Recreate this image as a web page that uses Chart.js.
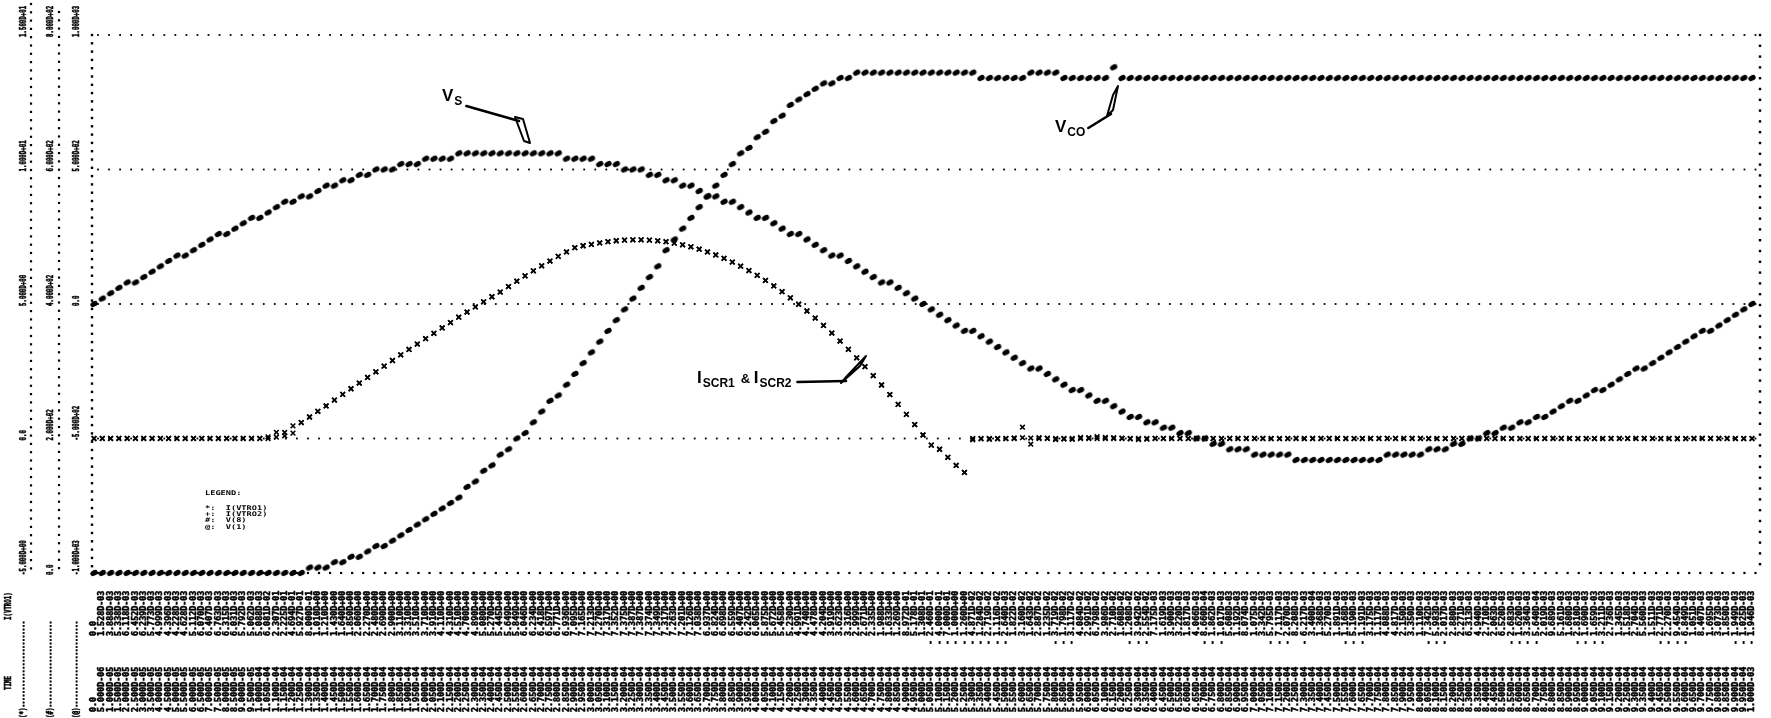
<!DOCTYPE html>
<html>
<head>
<meta charset="utf-8">
<title>Transient analysis printer plot</title>
<script src="https://cdn.jsdelivr.net/npm/chart.js@4.4.1/dist/chart.umd.min.js"></script>
<style>
  html, body { margin: 0; padding: 0; background: #ffffff; }
  #plot { display: block; }
</style>
</head>
<body>
<canvas id="plot" width="1771" height="718"></canvas>
<script>
// ---- transient analysis: 5 us print step, 0 .. 1 ms ----
const TSTEP = 5e-6;
const TIME = Array.from({ length: 201 }, (_, i) => i * TSTEP);

// scale ticks of the three plot scales
const STAR_TICKS = [-5, 0, 5, 10, 15];          // (*) I(VTRO1), I(VTRO2)  [A]
const HASH_TICKS = [0, 200, 400, 600, 800];      // (#) V(8)               [V]
const AT_TICKS = [-1000, -500, 0, 500, 1000];    // (@) V(1)               [V]

// V(1): source voltage V_S
const V1 = [
  0, 20, 40, 60, 80, 80, 100, 120, 140, 160, 180, 180, 200, 220, 240, 260, 260, 280, 300, 320,
  320, 340, 360, 380, 380, 400, 400, 420, 440, 440, 460, 460, 480, 480, 500, 500, 500, 520, 520, 520,
  540, 540, 540, 540, 560, 560, 560, 560, 560, 560, 560, 560, 560, 560, 560, 560, 560, 540, 540, 540,
  540, 520, 520, 520, 500, 500, 500, 480, 480, 460, 460, 440, 440, 420, 400, 400, 380, 380, 360, 340,
  320, 320, 300, 280, 260, 260, 240, 220, 200, 180, 180, 160, 140, 120, 100, 80, 80, 60, 40, 20,
  0, -20, -40, -60, -80, -100, -100, -120, -140, -160, -180, -200, -220, -240, -240, -260, -280, -300, -320, -320,
  -340, -360, -360, -380, -400, -420, -420, -440, -440, -460, -460, -480, -480, -500, -500, -520, -520, -540, -540, -540,
  -560, -560, -560, -560, -560, -580, -580, -580, -580, -580, -580, -580, -580, -580, -580, -580, -560, -560, -560, -560,
  -560, -540, -540, -540, -520, -520, -500, -500, -480, -480, -460, -460, -440, -440, -420, -420, -400, -380, -360, -360,
  -340, -320, -320, -300, -280, -260, -240, -240, -220, -200, -180, -160, -140, -120, -100, -100, -80, -60, -40, -20,
  0
];

// V(8): converter output voltage V_CO
const V8 = [
  0, 0, 0, 0, 0, 0, 0, 0, 0, 0, 0, 0, 0, 0, 0, 0, 0, 0, 0, 0,
  0, 0, 0, 0, 0, 0, 8, 8, 8, 16, 16, 24, 24, 32, 40, 40, 48, 56, 64, 72,
  80, 88, 96, 104, 112, 128, 136, 152, 160, 176, 184, 200, 208, 224, 240, 256, 264, 280, 296, 312,
  328, 344, 360, 376, 392, 408, 424, 440, 456, 480, 496, 512, 528, 544, 560, 576, 592, 608, 624, 632,
  648, 656, 672, 680, 696, 704, 712, 720, 728, 728, 736, 736, 744, 744, 744, 744, 744, 744, 744, 744,
  744, 744, 744, 744, 744, 744, 744, 736, 736, 736, 736, 736, 736, 744, 744, 744, 744, 736, 736, 736,
  736, 736, 736, 752, 736, 736, 736, 736, 736, 736, 736, 736, 736, 736, 736, 736, 736, 736, 736, 736,
  736, 736, 736, 736, 736, 736, 736, 736, 736, 736, 736, 736, 736, 736, 736, 736, 736, 736, 736, 736,
  736, 736, 736, 736, 736, 736, 736, 736, 736, 736, 736, 736, 736, 736, 736, 736, 736, 736, 736, 736,
  736, 736, 736, 736, 736, 736, 736, 736, 736, 736, 736, 736, 736, 736, 736, 736, 736, 736, 736, 736,
  736
];

// I(VTRO1): thyristor current I_SCR1 (also the printed value column)
const I1 = [
  0, 1.528e-3, 3.888e-3, 5.338e-3, 6.118e-3, 6.452e-3, 6.239e-3, 5.773e-3, 4.999e-3, 4.396e-3,
  4.228e-3, 4.628e-3, 5.112e-3, 6.070e-3, 6.407e-3, 6.763e-3, 6.315e-3, 6.031e-3, 5.792e-3, 5.062e-3,
  5.088e-3, 6.081e-2, 0.2307, 0.2225, 0.4694, 0.5927, 0.80, 1.01, 1.21, 1.43,
  1.64, 1.85, 2.06, 2.27, 2.48, 2.69, 2.90, 3.11, 3.31, 3.51,
  3.71, 3.91, 4.11, 4.31, 4.51, 4.70, 4.89, 5.08, 5.27, 5.445,
  5.649, 5.849, 6.046, 6.234, 6.418, 6.597, 6.771, 6.936, 7.095, 7.165,
  7.213, 7.270, 7.317, 7.352, 7.375, 7.387, 7.387, 7.374, 7.349, 7.317,
  7.263, 7.201, 7.126, 7.038, 6.937, 6.824, 6.698, 6.559, 6.407, 6.242,
  6.065, 5.875, 5.672, 5.458, 5.230, 4.991, 4.740, 4.478, 4.204, 3.919,
  3.623, 3.316, 2.999, 2.671, 2.335, 1.988, 1.633, 1.269, 0.8972, 0.5178,
  0.1308, -0.246, -0.40, -0.70, -1.00, -1.26, -4.871e-2, -1.284e-2, -2.719e-2, -1.116e-2,
  -2.640e-3, 1.822e-2, 3.160e-2, 1.643e-2, 2.887e-2, 1.235e-2, -3.719e-2, -1.798e-2, -3.117e-2, 4.084e-2,
  2.991e-2, 6.798e-2, 3.986e-2, 2.710e-2, 1.608e-2, -1.208e-2, -3.942e-2, -2.554e-2, 7.175e-3, 1.619e-3,
  3.900e-3, 3.220e-3, 1.817e-3, 4.066e-3, -8.660e-4, -1.862e-3, -1.017e-3, 5.608e-3, 1.192e-3, 8.074e-3,
  1.075e-3, 3.342e-3, -5.795e-3, -7.117e-3, -2.070e-3, 8.208e-3, -6.217e-3, 3.400e-4, 1.368e-3, 5.270e-3,
  1.891e-3, -1.168e-3, -5.190e-3, -1.191e-3, 3.175e-3, 1.117e-3, 4.088e-3, 4.817e-3, 2.150e-3, 3.350e-3,
  1.110e-3, -7.342e-3, -5.983e-3, -2.017e-3, 2.880e-3, 2.271e-3, 6.313e-3, 4.940e-3, 2.710e-3, 2.063e-3,
  6.520e-3, -2.683e-3, -1.620e-3, -3.364e-3, -5.640e-4, 2.019e-3, 9.689e-3, 5.161e-3, 1.680e-3, -2.810e-3,
  -1.690e-3, -1.659e-3, -3.211e-3, 2.736e-3, 1.345e-3, 1.518e-3, 2.704e-3, 5.560e-3, 1.511e-3, -2.771e-3,
  -2.270e-3, -9.454e-3, -6.849e-3, 1.051e-3, 8.407e-3, 1.695e-3, 3.073e-3, 1.850e-3, -1.949e-3, -1.025e-3,
  -1.946e-3
];

// I(VTRO2): thyristor current I_SCR2
const I2 = [
  0, 0, 0, 0, 0, 0, 0, 0, 0, 0, 0, 0, 0, 0, 0, 0, 0, 0, 0, 0,
  0, 0, 0.05, 0.10, 0.20, 0.5927, 0.80, 1.01, 1.21, 1.43,
  1.64, 1.85, 2.06, 2.27, 2.48, 2.69, 2.90, 3.11, 3.31, 3.51,
  3.71, 3.91, 4.11, 4.31, 4.51, 4.70, 4.89, 5.08, 5.27, 5.445,
  5.649, 5.849, 6.046, 6.234, 6.418, 6.597, 6.771, 6.936, 7.095, 7.165,
  7.213, 7.270, 7.317, 7.352, 7.375, 7.387, 7.387, 7.374, 7.349, 7.317,
  7.263, 7.201, 7.126, 7.038, 6.937, 6.824, 6.698, 6.559, 6.407, 6.242,
  6.065, 5.875, 5.672, 5.458, 5.230, 4.991, 4.740, 4.478, 4.204, 3.919,
  3.623, 3.316, 2.999, 2.671, 2.335, 1.988, 1.633, 1.269, 0.8972, 0.5178,
  0.1308, -0.246, -0.40, -0.70, -1.00, -1.26, 0, 0, 0, 0,
  0, 0, 0.42, -0.21, 0, 0, 0, 0, 0, 0, 0, 0, 0, 0, 0, 0, 0, 0, 0, 0,
  0, 0, 0, 0, 0, 0, 0, 0, 0, 0, 0, 0, 0, 0, 0, 0, 0, 0, 0, 0,
  0, 0, 0, 0, 0, 0, 0, 0, 0, 0, 0, 0, 0, 0, 0, 0, 0, 0, 0, 0,
  0, 0, 0, 0, 0, 0, 0, 0, 0, 0, 0, 0, 0, 0, 0, 0, 0, 0, 0, 0,
  0, 0, 0, 0, 0, 0, 0, 0, 0, 0, 0, 0, 0, 0, 0, 0, 0, 0, 0, 0,
  0
];

// ---- printer-style number format, e.g. 1.528D-03 ----
function fmtD(v) {
  if (v === 0) return '0.0';
  const parts = Math.abs(v).toExponential(3).split('e');
  const e = parseInt(parts[1], 10);
  return (v < 0 ? '-' : '') + parts[0] + 'D' + (e < 0 ? '-' : '+') + String(Math.abs(e)).padStart(2, '0');
}

const MONO = '"DejaVu Sans Mono", "Liberation Mono", monospace';
const ROW_FONT = 'bold 8.4px ' + MONO;
const HEAD_FONT = 'bold 9px ' + MONO;
const INK = '#000000';

// filled printer dot used for the voltage traces
function makeDot() {
  const c = document.createElement('canvas');
  c.width = 10; c.height = 10;
  const g = c.getContext('2d');
  g.fillStyle = INK;
  g.beginPath();
  g.ellipse(5, 5, 3.9, 2.7, -0.5, 0, Math.PI * 2);
  g.fill();
  return c;
}
const DOT = makeDot();

function series(values) {
  return values.map((v, i) => ({ x: TIME[i], y: v }));
}

// dotted rules made of single printer dots
function dotsH(ctx, x0, x1, y, step, r) {
  for (let x = x0; x <= x1 + 0.01; x += step) ctx.fillRect(x - r / 2, y - r / 2, r, r);
}
function dotsV(ctx, x, y0, y1, step, r) {
  for (let y = y0; y <= y1 + 0.01; y += step) ctx.fillRect(x - r / 2, y - r / 2, r, r);
}

// rotated (bottom-to-top) printer text starting at (x, y); heavy ribbon ink.
// squeeze < 1 condenses the characters along the line.
function upText(ctx, s, x, y, squeeze) {
  ctx.save();
  ctx.translate(x, y);
  ctx.rotate(-Math.PI / 2);
  if (squeeze) ctx.scale(squeeze, 1);
  ctx.textAlign = 'left';
  ctx.textBaseline = 'middle';
  ctx.lineWidth = 0.55;
  ctx.strokeStyle = INK;
  ctx.fillText(s, 0, 0);
  ctx.strokeText(s, 0, 0);
  ctx.restore();
}

// hand-drawn style arrow: leader line plus slim open arrowhead
function leader(ctx, pts, head) {
  ctx.save();
  ctx.strokeStyle = INK;
  ctx.lineWidth = 2.6;
  ctx.lineCap = 'round';
  ctx.lineJoin = 'round';
  ctx.beginPath();
  ctx.moveTo(pts[0][0], pts[0][1]);
  for (let k = 1; k < pts.length; k++) ctx.lineTo(pts[k][0], pts[k][1]);
  ctx.stroke();
  ctx.lineWidth = 2;
  ctx.beginPath();
  ctx.moveTo(head[0][0], head[0][1]);
  for (let k = 1; k < head.length; k++) ctx.lineTo(head[k][0], head[k][1]);
  ctx.closePath();
  ctx.stroke();
  ctx.restore();
}

function subLabel(ctx, x, y, main, sub) {
  ctx.save();
  ctx.fillStyle = INK;
  ctx.textBaseline = 'alphabetic';
  ctx.textAlign = 'left';
  ctx.font = 'bold 17px "Liberation Sans", "DejaVu Sans", sans-serif';
  ctx.fillText(main, x, y);
  let w = ctx.measureText(main).width;
  ctx.font = 'bold 12px "Liberation Sans", "DejaVu Sans", sans-serif';
  ctx.fillText(sub, x + w + 1, y + 4);
  w += 1 + ctx.measureText(sub).width;
  ctx.restore();
  return x + w;
}

const printerPlot = {
  id: 'printerPlot',
  beforeDraw(chart) {
    const ctx = chart.ctx;
    ctx.save();
    ctx.fillStyle = '#ffffff';
    ctx.fillRect(0, 0, chart.width, chart.height);
    ctx.restore();
  },
  beforeDatasetsDraw(chart) {
    const ctx = chart.ctx;
    const a = chart.chartArea;
    const yA = chart.scales.yAt;
    ctx.save();
    ctx.fillStyle = INK;
    // horizontal rules at every scale division
    AT_TICKS.forEach((t, k) => {
      const y = yA.getPixelForValue(t);
      dotsH(ctx, a.left + 4, a.right + 8, y, 11.05, k === 0 ? 2.2 : 1.8);
    });
    // frame: left and right dotted edges
    dotsV(ctx, a.left - 2, a.top, a.bottom, 8.3, 2.4);
    dotsV(ctx, a.right + 8, a.top, a.bottom, 10.8, 2.4);
    // separators between the header scale columns
    dotsV(ctx, 31, 4, a.bottom + 2, 8.3, 2.2);
    dotsV(ctx, 59, 12, a.bottom + 2, 8.3, 2.2);
    ctx.restore();
  },
  afterDatasetsDraw(chart) {
    const ctx = chart.ctx;
    const xs = chart.scales.x;
    const yS = chart.scales.yStar, yH = chart.scales.yHash, yA = chart.scales.yAt;
    ctx.save();
    ctx.fillStyle = INK;

    // value column (I(VTRO1)) and time column under each print row
    ctx.font = ROW_FONT;
    TIME.forEach((t, i) => {
      const x = xs.getPixelForValue(t);
      const v = I1[i];
      upText(ctx, fmtD(Math.abs(v)), x, 636);
      if (v < 0) upText(ctx, '-', x, 645);
      upText(ctx, fmtD(t), x, 712);
    });

    // column titles and scale headers (condensed header type)
    ctx.font = HEAD_FONT;
    const SQ = 0.64;
    upText(ctx, 'I(VTRO1)', 9, 620, SQ);
    upText(ctx, 'TIME', 9, 690, SQ);
    const cols = [
      { x: 24, sym: '(*)', ticks: STAR_TICKS, scale: yS },
      { x: 51, sym: '(#)', ticks: HASH_TICKS, scale: yH },
      { x: 77, sym: '(@)', ticks: AT_TICKS, scale: yA }
    ];
    cols.forEach(c => {
      upText(ctx, c.sym + '-------------------------', c.x, 718, SQ);
      c.ticks.forEach(t => upText(ctx, fmtD(t), c.x, c.scale.getPixelForValue(t) + 2, SQ));
    });

    // legend block
    ctx.save();
    ctx.font = 'bold 6.4px ' + MONO;
    ctx.textBaseline = 'middle';
    ctx.setTransform(1.35, 0, 0, 1, 0, 0);
    const lx = 205 / 1.35;
    ctx.fillText('LEGEND:', lx, 493);
    ctx.fillText('*:  I(VTRO1)', lx, 508);
    ctx.fillText('+:  I(VTRO2)', lx, 514);
    ctx.fillText('#:  V(8)', lx, 520);
    ctx.fillText('@:  V(1)', lx, 527);
    ctx.restore();

    // trace annotations
    let e = subLabel(ctx, 442, 101, 'V', 'S');
    leader(ctx, [[e + 4, 106], [519, 121]], [[515, 117], [523, 119], [530, 143], [524, 141]]);
    e = subLabel(ctx, 1055, 132, 'V', 'CO');
    leader(ctx, [[e + 3, 128], [1111, 114]], [[1107, 116], [1113, 110], [1118, 86], [1113, 95]]);
    let x2 = subLabel(ctx, 697, 383, 'I', 'SCR1');
    ctx.font = 'bold 13px "Liberation Sans", "DejaVu Sans", sans-serif';
    ctx.fillText('&', x2 + 6, 383);
    x2 = subLabel(ctx, x2 + 19, 383, 'I', 'SCR2');
    leader(ctx, [[x2 + 6, 382], [846, 381]], [[841, 383], [847, 376], [866, 356], [860, 366]]);
    ctx.restore();
  }
};

const crossStyle = {
  pointStyle: 'crossRot', pointRadius: 3.3, pointBorderWidth: 1.6,
  borderColor: INK, backgroundColor: INK, showLine: false, clip: false
};
const dotStyle = {
  pointStyle: DOT, pointRadius: 4, showLine: false, clip: false,
  borderColor: INK, backgroundColor: INK
};

new Chart(document.getElementById('plot'), {
  type: 'scatter',
  data: {
    datasets: [
      Object.assign({ label: 'I(VTRO1)', data: series(I1), yAxisID: 'yStar' }, crossStyle),
      Object.assign({ label: 'I(VTRO2)', data: series(I2), yAxisID: 'yStar' }, crossStyle),
      Object.assign({ label: 'V(8)', data: series(V8), yAxisID: 'yHash' }, dotStyle),
      Object.assign({ label: 'V(1)', data: series(V1), yAxisID: 'yAt' }, dotStyle)
    ]
  },
  options: {
    responsive: false,
    animation: false,
    devicePixelRatio: 1,
    layout: { padding: { left: 94, right: 19, top: 35, bottom: 145 } },
    plugins: { legend: { display: false }, tooltip: { enabled: false } },
    scales: {
      x: { type: 'linear', min: 0, max: 1e-3, display: false },
      yStar: { type: 'linear', min: STAR_TICKS[0], max: STAR_TICKS[4], display: false },
      yHash: { type: 'linear', min: HASH_TICKS[0], max: HASH_TICKS[4], display: false },
      yAt: { type: 'linear', min: AT_TICKS[0], max: AT_TICKS[4], display: false }
    }
  },
  plugins: [printerPlot]
});
</script>
</body>
</html>
